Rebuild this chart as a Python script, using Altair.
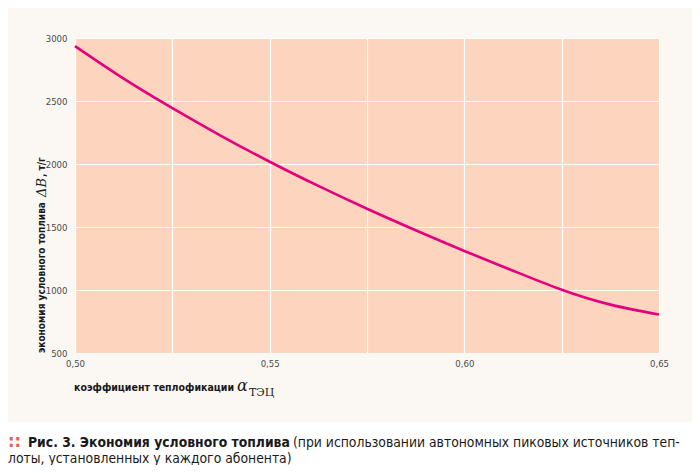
import altair as alt
import pandas as pd

# ---- data ----
alpha = [0.5, 0.5125, 0.525, 0.5375, 0.55, 0.5625, 0.575, 0.5875, 0.6, 0.6125, 0.625, 0.6375, 0.65]
savings = [2935, 2677, 2443, 2224, 2018, 1826, 1645, 1474, 1310, 1153, 1002, 884, 805]
x_grid = [0.5, 0.525, 0.55, 0.575, 0.6, 0.625, 0.65]
y_ticks = [500, 1000, 1500, 2000, 2500, 3000]

x_title = "коэффициент теплофикации"
x_sym = "α"
x_sub = "ТЭЦ"
y_title = "экономия условного топлива"
y_sym = "ΔB"
y_unit = ", т/г"
cap_bold = "Рис. 3. Экономия условного топлива"
cap_rest = "(при использовании автономных пиковых источников теп-"
cap_line2 = "лоты, установленных у каждого абонента)"
cap_icon = "::"

FONT = "DejaVu Sans Condensed, Liberation Sans Narrow, sans-serif"
MATH = "DejaVu Serif, Liberation Serif, serif"
W, H = 584, 315

df = pd.DataFrame({"alpha": alpha, "savings": savings})
one = pd.DataFrame({"k": [0]})

label_expr = ("round(datum.value*1000) % 50 == 0 ? "
              "replace(format(datum.value, '.2f'), '.', ',') : ''")

line = alt.Chart(df).mark_line(color="#e4007c", strokeWidth=2.6, interpolate="natural").encode(
    x=alt.X("alpha:Q",
            scale=alt.Scale(domain=[0.5, 0.65], nice=False, zero=False),
            axis=alt.Axis(values=x_grid, labelExpr=label_expr, title=None, grid=True,
                          gridColor="white", gridWidth=1.2, ticks=False, domain=False,
                          labelPadding=5, labelFont=FONT, labelFontSize=9.5,
                          labelColor="#4a4a4a", labelFlush=False)),
    y=alt.Y("savings:Q",
            scale=alt.Scale(domain=[500, 3000], nice=False, zero=False),
            axis=alt.Axis(values=y_ticks, format="d", title=None, grid=True, gridColor="white",
                          gridWidth=1.2, ticks=False, domain=False, labelPadding=8,
                          labelFont=FONT, labelFontSize=9.5, labelColor="#4a4a4a",
                          labelFlush=False)),
)

def txt(text, x, y, size, font=FONT, weight="normal", color="#1a1a1a", angle=0,
        style="normal", baseline="alphabetic"):
    return alt.Chart(one).mark_text(
        text=text, align="left", baseline=baseline, font=font, fontSize=size,
        fontWeight=weight, color=color, angle=angle, fontStyle=style,
    ).encode(x=alt.value(x), y=alt.value(y))

# white caption band
band = alt.Chart(one).mark_rect(color="white").encode(
    x=alt.value(-80), x2=alt.value(W + 60), y=alt.value(384), y2=alt.value(H + 130)
)

layers = [
    band,
    line,
    txt(x_title, -1, 353, 10.5, weight="bold"),
    txt(x_sym, 162, 353, 16, font=MATH, style="italic"),
    txt(x_sub, 174, 358, 11, font=MATH),
    txt(y_title, -33, 315, 10, weight="bold", angle=270, baseline="middle"),
    txt(y_sym, -33, 159, 13, font=MATH, style="italic", angle=270, baseline="middle"),
    txt(y_unit, -33, 139, 10, weight="bold", angle=270, baseline="middle"),
    txt(cap_icon, -67, 409, 18, weight="bold", color="#e8604c"),
    txt(cap_bold, -47, 409, 13.8, weight="bold"),
    txt(cap_rest, 218, 409, 13.8),
    txt(cap_line2, -67, 425, 13.8),
]

chart = alt.layer(*layers).properties(
    width=W, height=H,
    padding={"left": 67, "top": 30, "right": 33, "bottom": 112},
    autosize=alt.AutoSizeParams(type="none"),
    background="#fbf8f3",
).configure_view(fill="#fdd5bf", stroke=None)

chart.save("out.html", embed_options={"renderer": "svg", "actions": False})
